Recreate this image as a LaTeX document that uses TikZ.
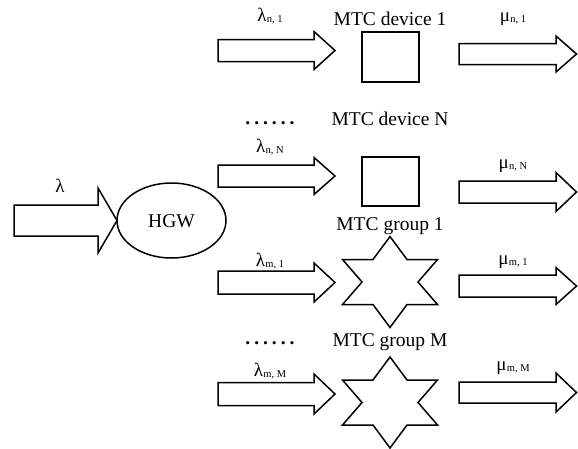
\documentclass[tikz,border=0pt]{standalone}
\usetikzlibrary{shapes.geometric}
\usepackage{fontspec}
\setmainfont{Liberation Serif}
\newcommand\gsub[2]{#1\kern0.3pt\raisebox{-1.2pt}{\fontsize{10.5}{10.5}\selectfont #2}}
\newcommand\sixdots{\textbf{.\hspace{4pt}.\hspace{4pt}.\hspace{4pt}.\hspace{4pt}.\hspace{4pt}.}}
\newcommand\fatarrow[7]{% name, x0, xh, x1, yc, hb, hh
  \draw[fat] (#2,#5-#6) -- (#3,#5-#6) -- (#3,#5-#7) -- (#4,#5) -- (#3,#5+#7) -- (#3,#5+#6) -- (#2,#5+#6) -- cycle;
  \coordinate (#1) at (#4,#5);}
\newcommand\hexstar[3]{% name, cx, cy
  \draw[fat] (#2,#3-45.5) -- (#2+17,#3-22.5) -- (#2+47.5,#3-22.5) -- (#2+28,#3) -- (#2+47.5,#3+22.5) -- (#2+17,#3+22.5) -- (#2,#3+45.5) -- (#2-17,#3+22.5) -- (#2-47.5,#3+22.5) -- (#2-28,#3) -- (#2-47.5,#3-22.5) -- (#2-17,#3-22.5) -- cycle;
  \coordinate (#1) at (#2,#3);}
\begin{document}
\begin{tikzpicture}[x=1pt,y=-1pt,
  fat/.style={draw=black,line width=1.5pt,line join=miter,fill=white},
  txt/.style={font=\fontsize{19.5}{19.5}\selectfont,inner sep=0pt,anchor=base},
  glab/.style={font=\fontsize{19}{19}\selectfont,inner sep=0pt,anchor=base}]
\useasboundingbox (0,0) rectangle (578,448);
% input arrow and HGW
\fatarrow{inA}{14}{98}{117}{220.5}{15.5}{32.5}
\node[glab] (lam) at (60,192) {λ};
\node[draw,line width=1.5pt,ellipse,minimum width=109pt,minimum height=75pt,inner sep=0pt] (hgw) at (171.5,220.5) {};
\node[txt] (hgwt) at (171.5,227) {HGW};
% incoming arrows
\fatarrow{a1}{218}{314}{335}{50.5}{11}{19}
\fatarrow{a2}{218}{314}{335}{176}{11}{18.5}
\fatarrow{a3}{218}{314}{335}{282.5}{11.5}{19.5}
\fatarrow{a4}{218}{314}{335}{394}{11.5}{20}
\node[glab] (l1) at (270,21) {\gsub{λ}{n, 1}};
\node[glab] (l2) at (270,152) {\gsub{λ}{n, N}};
\node[glab] (l3) at (270,266) {\gsub{λ}{m, 1}};
\node[glab] (l4) at (270,376) {\gsub{λ}{m, M}};
% devices
\node[draw,line width=1.5pt,minimum width=57pt,minimum height=50pt,inner sep=0pt] (d1) at (390.5,57) {};
\node[draw,line width=1.5pt,minimum width=57pt,minimum height=49pt,inner sep=0pt] (dN) at (390.5,181.5) {};
\hexstar{g1}{390}{282}
\hexstar{gM}{390}{402.5}
\node[txt] (t1) at (390,25) {MTC device 1};
\node[txt] (tN) at (390,125) {MTC device N};
\node[txt] (t3) at (390,230) {MTC group 1};
\node[txt] (t4) at (390,346) {MTC group M};
\node[txt] (dots1) at (270,124) {\sixdots};
\node[txt] (dots2) at (270,344) {\sixdots};
% outgoing arrows
\fatarrow{b1}{459}{556}{576.5}{54}{10.5}{18}
\fatarrow{b2}{459}{556}{576.5}{192}{11}{19.5}
\fatarrow{b3}{459}{556}{576.5}{286}{11}{18.5}
\fatarrow{b4}{459}{556}{576.5}{392.5}{10.5}{19.5}
\node[glab] (m1) at (513,21) {\gsub{μ}{n, 1}};
\node[glab] (m2) at (513,168) {\gsub{μ}{n, N}};
\node[glab] (m3) at (513,264) {\gsub{μ}{m, 1}};
\node[glab] (m4) at (513,370) {\gsub{μ}{m, M}};
\end{tikzpicture}
\end{document}
